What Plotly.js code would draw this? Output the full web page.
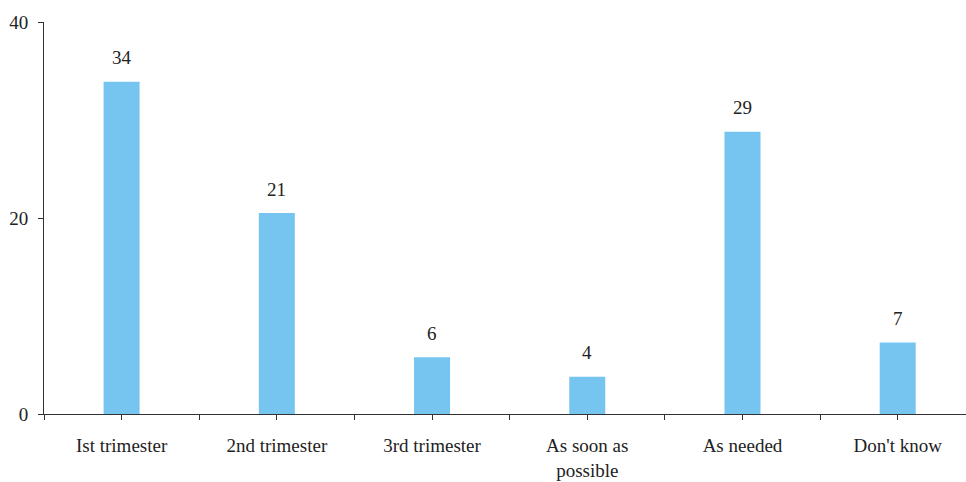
<!DOCTYPE html>
<html>
<head>
<meta charset="utf-8">
<script src="https://cdn.plot.ly/plotly-3.0.1.min.js"></script>
<style>html,body{margin:0;padding:0;background:#fff;}#chart{width:966px;height:482px;}</style>
</head>
<body>
<div id="chart"></div>
<script>
var categories = ["Ist trimester", "2nd trimester", "3rd trimester", "As soon as<br>possible", "As needed", "Don't know"];
var values = [33.9, 20.5, 5.8, 3.8, 28.8, 7.3];
var labels = ["34", "21", "6", "4", "29", "7"];
var yTicks = [0, 20, 40];

var idx = categories.map(function(_, i){ return i; });
var bounds = [];
for (var i = 0; i <= categories.length; i++) bounds.push(i - 0.5);

var font = {family: "Liberation Serif", size: 19, color: "#222"};

var trace = {
  type: "bar",
  x: idx,
  y: values,
  width: 0.232,
  marker: {color: "#76C5F0"},
  hoverinfo: "none"
};

var annotations = idx.map(function(i){
  return {x: i, y: values[i], text: labels[i], showarrow: false, yshift: 24, yanchor: "middle", font: font};
});

var layout = {
  width: 966, height: 482,
  margin: {l: 44, r: 0, t: 22, b: 68},
  paper_bgcolor: "#fff", plot_bgcolor: "#fff",
  showlegend: false,
  font: font,
  xaxis: {
    range: [-0.5, 5.44],
    tickvals: idx, ticktext: categories,
    tickfont: font,
    ticks: "outside", ticklen: 5, tickcolor: "#333",
    ticklabelstandoff: 9,
    showline: true, linecolor: "#333", linewidth: 1,
    showgrid: false, zeroline: false,
    minor: {tickvals: bounds, ticks: "outside", ticklen: 5, tickcolor: "#333", showgrid: false},
    fixedrange: true
  },
  yaxis: {
    range: [0, 40],
    tickvals: yTicks, ticktext: yTicks.map(String),
    tickfont: font,
    ticks: "outside", ticklen: 5, tickcolor: "#333",
    ticklabelstandoff: 6,
    showline: true, linecolor: "#333", linewidth: 1,
    showgrid: false, zeroline: false,
    fixedrange: true
  },
  annotations: annotations
};

Plotly.newPlot("chart", [trace], layout, {staticPlot: true, displayModeBar: false});
</script>
</body>
</html>
